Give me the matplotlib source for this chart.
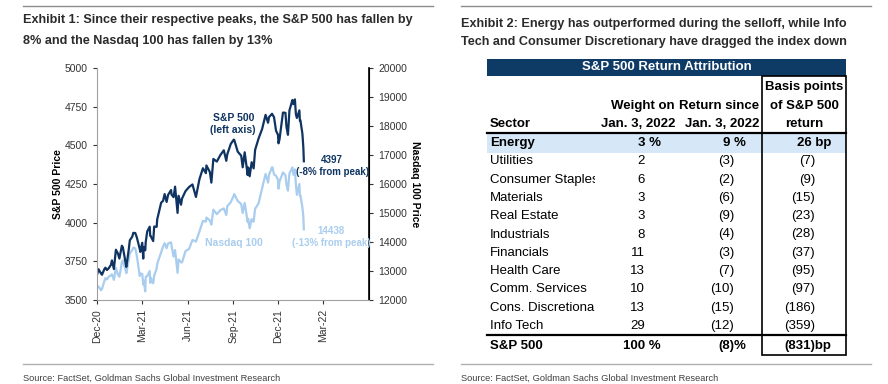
import numpy as np
import pandas as pd
import matplotlib
matplotlib.use('Agg')
import matplotlib.pyplot as plt
from matplotlib.patches import Rectangle

# ---- data: chart (S&P 500 left axis, Nasdaq 100 right axis)
dates = ['2020-12-01', '2020-12-04', '2020-12-09', '2020-12-11', '2020-12-16', '2020-12-18',
         '2020-12-21', '2020-12-24', '2020-12-29', '2020-12-31', '2021-01-04', '2021-01-08',
         '2021-01-12', '2021-01-15', '2021-01-20', '2021-01-22', '2021-01-27', '2021-01-29',
         '2021-02-03', '2021-02-05', '2021-02-10', '2021-02-12', '2021-02-16', '2021-02-19',
         '2021-02-25', '2021-02-26', '2021-03-02', '2021-03-04', '2021-03-05', '2021-03-08',
         '2021-03-09', '2021-03-12', '2021-03-17', '2021-03-18', '2021-03-19', '2021-03-24',
         '2021-03-26', '2021-03-31', '2021-04-01', '2021-04-09', '2021-04-13', '2021-04-16',
         '2021-04-20', '2021-04-23', '2021-04-29', '2021-04-30', '2021-05-04', '2021-05-07',
         '2021-05-12', '2021-05-14', '2021-05-19', '2021-05-21', '2021-05-28', '2021-06-04',
         '2021-06-11', '2021-06-18', '2021-06-25', '2021-07-02', '2021-07-08', '2021-07-09',
         '2021-07-16', '2021-07-19', '2021-07-23', '2021-07-30', '2021-08-06', '2021-08-13',
         '2021-08-18', '2021-08-20', '2021-08-27', '2021-09-02', '2021-09-03', '2021-09-10',
         '2021-09-17', '2021-09-20', '2021-09-24', '2021-09-30', '2021-10-01', '2021-10-04',
         '2021-10-08', '2021-10-12', '2021-10-15', '2021-10-22', '2021-10-29', '2021-11-05',
         '2021-11-10', '2021-11-12', '2021-11-18', '2021-11-19', '2021-11-22', '2021-11-26',
         '2021-11-30', '2021-12-01', '2021-12-03', '2021-12-10', '2021-12-15', '2021-12-17',
         '2021-12-20', '2021-12-23', '2021-12-29', '2021-12-31', '2022-01-03', '2022-01-05',
         '2022-01-07', '2022-01-12', '2022-01-13', '2022-01-14', '2022-01-18', '2022-01-19',
         '2022-01-20', '2022-01-21']

spx = [3662, 3699, 3672, 3663, 3701, 3709, 3694, 3703, 3727, 3756, 3700, 3825,
       3801, 3768, 3851, 3841, 3750, 3714, 3830, 3886, 3910, 3934, 3933, 3906,
       3829, 3811, 3870, 3768, 3842, 3821, 3875, 3943, 3974, 3915, 3913, 3881,
       3975, 3973, 4020, 4129, 4142, 4185, 4134, 4180, 4211, 4181, 4165, 4233,
       4063, 4174, 4116, 4156, 4204, 4230, 4247, 4166, 4281, 4352, 4320, 4370,
       4327, 4259, 4412, 4395, 4437, 4468, 4400, 4442, 4509, 4537, 4535, 4459,
       4433, 4358, 4455, 4308, 4357, 4300, 4391, 4351, 4471, 4545, 4605, 4697,
       4646, 4683, 4704, 4698, 4682, 4595, 4567, 4513, 4538, 4712, 4710, 4620,
       4568, 4726, 4793, 4766, 4797, 4701, 4677, 4726, 4659, 4663, 4577, 4533,
       4483, 4397]

ndx = [12456, 12465, 12339, 12382, 12658, 12756, 12710, 12794, 12850, 12888, 12694, 13105,
       12880, 12803, 13298, 13366, 13077, 12925, 13410, 13610, 13730, 13808, 13780, 13532,
       12829, 12909, 12900, 12540, 12669, 12299, 12794, 12827, 13000, 12590, 12768, 12577,
       12842, 13091, 13245, 13645, 13850, 13960, 13787, 13950, 13986, 13861, 13500, 13720,
       12937, 13400, 13300, 13295, 13687, 13761, 14069, 14015, 14361, 14727, 14700, 14843,
       14742, 14600, 15116, 14959, 15096, 15159, 14930, 15232, 15374, 15600, 15653, 15413,
       15310, 15000, 15346, 14690, 14800, 14472, 14787, 14700, 15146, 15335, 15850, 16345,
       16050, 16320, 16580, 16573, 16330, 16286, 16135, 15840, 16085, 16400, 16300, 15983,
       15770, 16364, 16570, 16320, 16501, 15980, 15629, 16000, 15600, 15611, 15200, 15050,
       14850, 14438]

# ---- data: table
sectors = ['Energy', 'Utilities', 'Consumer Staples', 'Materials', 'Real Estate', 'Industrials',
           'Financials', 'Health Care', 'Comm. Services', 'Cons. Discretionary', 'Info Tech']
weights = [3, 2, 6, 3, 3, 8, 11, 13, 10, 13, 29]
returns = [9, -3, -2, -6, -9, -4, -3, -7, -10, -15, -12]
bps = [26, -7, -9, -15, -23, -28, -37, -95, -97, -186, -359]
total_weight, total_return, total_bp = 100, -8, -831

NAVY = '#0f3461'
LIGHT = '#a9cdee'
plt.rcParams['font.family'] = ['Liberation Sans', 'DejaVu Sans']
TS = 9.5   # table font size

fig = plt.figure(figsize=(8.88, 3.84), dpi=100)

# overlay in pixel coordinates for titles, rules and the table
ov = fig.add_axes([0, 0, 1, 1])
ov.set_xlim(0, 888)
ov.set_ylim(384, 0)
ov.axis('off')

title_kw = dict(weight='bold', fontsize=9.1, color='#2b2b2b', va='center')
src_kw = dict(fontsize=6.7, color='#404040', va='center')

# --- left panel frame text
ov.plot([23, 433], [6, 6], color='#8c8c8c', lw=1)
ov.plot([23, 433], [364, 364], color='#b0b0b0', lw=1)
ov.text(23, 20, 'Exhibit 1: Since their respective peaks, the S&P 500 has fallen by', **title_kw)
ov.text(23, 41, '8% and the Nasdaq 100 has fallen by 13%', **title_kw)
ov.text(23, 378, 'Source: FactSet, Goldman Sachs Global Investment Research', **src_kw)

# --- right panel
ov.plot([461, 871], [6, 6], color='#8c8c8c', lw=1)
ov.plot([461, 871], [364, 364], color='#b0b0b0', lw=1)
ov.text(461, 24, 'Exhibit 2: Energy has outperformed during the selloff, while Info', **title_kw)
ov.text(461, 42, 'Tech and Consumer Discretionary have dragged the index down', **title_kw)
ov.text(461, 378, 'Source: FactSet, Goldman Sachs Global Investment Research', **src_kw)

# table
tx0, tx1 = 487, 846
ov.add_patch(Rectangle((tx0, 59), tx1 - tx0, 17, color='#0e3a66', lw=0))
ov.text((tx0 + tx1) / 2, 67.5, 'S&P 500 Return Attribution', color='white',
        weight='bold', fontsize=TS, ha='center', va='center')

hdr = dict(weight='bold', fontsize=TS, color='black', va='center')
ov.text(490, 124, 'Sector', ha='left', **hdr)
ov.text(675, 106, 'Weight on', ha='right', **hdr)
ov.text(675, 124, 'Jan. 3, 2022', ha='right', **hdr)
ov.text(759, 106, 'Return since', ha='right', **hdr)
ov.text(759, 124, 'Jan. 3, 2022', ha='right', **hdr)
ov.text(804, 87, 'Basis points', ha='center', **hdr)
ov.text(804, 106, 'of S&P 500', ha='center', **hdr)
ov.text(804, 124, 'return', ha='center', **hdr)

row_y0, row_dy = 143, 18.3
ov.add_patch(Rectangle((tx0, row_y0 - 9.5), tx1 - tx0, 19, color='#d6e8f8', lw=0))
ov.plot([tx0, tx1], [133, 133], color='black', lw=1.6)
ov.plot([tx0, tx1], [335, 335], color='black', lw=1.6)
ov.add_patch(Rectangle((762, 76), tx1 - 762, 355 - 76, fill=False, ec='black', lw=1.2))

# sector cells are narrow, long names get cut like in the spreadsheet
clip = Rectangle((480, 100), 115, 260, transform=ov.transData)


def paren(v):
    return f'({abs(v)})' if v < 0 else f'{v}'


for i, (s, w, r, b) in enumerate(zip(sectors, weights, returns, bps)):
    y = row_y0 + i * row_dy
    if i == 0:
        kw = dict(weight='bold', fontsize=TS, va='center')
        ov.text(490, y, s, ha='left', **kw)
        ov.text(661, y, f'{w} %', ha='right', **kw)
        ov.text(746, y, f'{paren(r)} %', ha='right', **kw)
        ov.text(831, y, f'{paren(b)} bp', ha='right', **kw)
    else:
        kw = dict(fontsize=TS, va='center')
        t = ov.text(490, y, s, ha='left', **kw)
        t.set_clip_on(True)
        t.set_clip_path(clip)
        ov.text(645, y, paren(w), ha='right', **kw)
        ov.text(734, y, paren(r), ha='right', **kw)
        ov.text(815, y, paren(b), ha='right', **kw)

kw = dict(weight='bold', fontsize=TS, va='center')
ov.text(490, 346, 'S&P 500', ha='left', **kw)
ov.text(661, 346, f'{total_weight} %', ha='right', **kw)
ov.text(746, 346, f'{paren(total_return)}%', ha='right', **kw)
ov.text(831, 346, f'{paren(total_bp)}bp', ha='right', **kw)

# ---- chart
x = pd.to_datetime(dates)
ax = fig.add_axes([97 / 888, 1 - 300 / 384, 272 / 888, 232 / 384])
ax2 = ax.twinx()
ax2.plot(x, ndx, color=LIGHT, lw=1.6)
ax.plot(x, spx, color=NAVY, lw=1.6)
ax.set_zorder(ax2.get_zorder() + 1)
ax.patch.set_visible(False)

ax.set_xlim(pd.Timestamp('2020-12-01'), pd.Timestamp('2022-06-01'))
ax.set_ylim(3500, 5000)
ax2.set_ylim(12000, 20000)
ax.set_yticks(np.arange(3500, 5001, 250))
ax2.set_yticks(np.arange(12000, 20001, 1000))
ticks = [pd.Timestamp(d) for d in ['2020-12-01', '2021-03-01', '2021-06-01',
                                    '2021-09-01', '2021-12-01', '2022-03-01']]
ax.set_xticks(ticks)
ax.set_xticklabels([t.strftime('%b-%y') for t in ticks], rotation=90)

for a in (ax, ax2):
    a.spines['top'].set_visible(False)
    a.tick_params(labelsize=7.5, length=3, width=0.8, colors='#333333')
ax.spines['left'].set_color('#a0a0a0')
ax.spines['bottom'].set_color('#a0a0a0')
ax2.spines['left'].set_visible(False)
ax2.spines['bottom'].set_visible(False)
ax2.spines['right'].set_color('black')
ax2.spines['right'].set_linewidth(1.2)

ax.set_ylabel('S&P 500 Price', weight='bold', fontsize=7.5, labelpad=1)
ax2.set_ylabel('Nasdaq 100 Price', weight='bold', fontsize=7.5, rotation=270, labelpad=9)

ax.text(pd.Timestamp('2021-09-01'), 4638, 'S&P 500\n(left axis)', color=NAVY,
        weight='bold', fontsize=7.5, ha='center', va='center', linespacing=1.2)
ax.text(pd.Timestamp('2022-03-19'), 4366, '4397\n(-8% from peak)', color=NAVY,
        weight='bold', fontsize=7, ha='center', va='center', linespacing=1.25)
ax.text(pd.Timestamp('2021-09-03'), 3868, 'Nasdaq 100', color=LIGHT,
        weight='bold', fontsize=7.5, ha='center', va='center')
ax.text(pd.Timestamp('2022-03-17'), 3907, '14438\n(-13% from peak)', color=LIGHT,
        weight='bold', fontsize=7, ha='center', va='center', linespacing=1.25)

fig.savefig('out.png', dpi=100)
